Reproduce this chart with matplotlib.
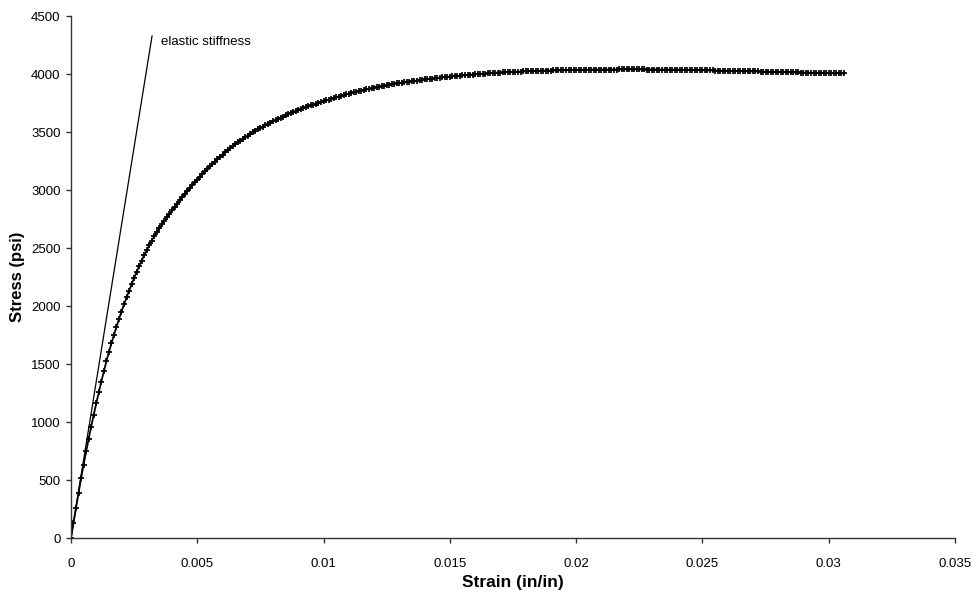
import matplotlib
matplotlib.use("Agg")
import matplotlib.pyplot as plt
import numpy as np

plt.rcParams['font.family'] = ['Liberation Sans', 'DejaVu Sans']

# strain readings, in units of 1e-4 in/in
strain_e4 = [
    0, 1, 2, 3, 4, 5, 6, 7, 8, 9, 10, 11, 12, 13, 14, 15, 16, 17, 18, 19,
    20, 21, 22, 23, 24, 25, 26, 27, 28, 29, 30, 31, 32, 33, 34, 35, 36, 37, 38, 39,
    40, 41, 42, 43, 44, 45, 46, 47, 48, 49, 50, 51, 52, 53, 54, 55, 56, 57, 58, 59,
    60, 61, 62, 63, 64, 65, 66, 67, 68, 69, 70, 71, 72, 73, 74, 75, 76, 77, 78, 79,
    80, 81, 82, 83, 84, 85, 86, 87, 88, 89, 90, 91, 92, 93, 94, 95, 96, 97, 98, 99,
    100, 101, 102, 103, 104, 105, 106, 107, 108, 109, 110, 111, 112, 113, 114, 115, 116, 117, 118, 119,
    120, 121, 122, 123, 124, 125, 126, 127, 128, 129, 130, 131, 132, 133, 134, 135, 136, 137, 138, 139,
    140, 141, 142, 143, 144, 145, 146, 147, 148, 149, 150, 151, 152, 153, 154, 155, 156, 157, 158, 159,
    160, 161, 162, 163, 164, 165, 166, 167, 168, 169, 170, 171, 172, 173, 174, 175, 176, 177, 178, 179,
    180, 181, 182, 183, 184, 185, 186, 187, 188, 189, 190, 191, 192, 193, 194, 195, 196, 197, 198, 199,
    200, 201, 202, 203, 204, 205, 206, 207, 208, 209, 210, 211, 212, 213, 214, 215, 216, 217, 218, 219,
    220, 221, 222, 223, 224, 225, 226, 227, 228, 229, 230, 231, 232, 233, 234, 235, 236, 237, 238, 239,
    240, 241, 242, 243, 244, 245, 246, 247, 248, 249, 250, 251, 252, 253, 254, 255, 256, 257, 258, 259,
    260, 261, 262, 263, 264, 265, 266, 267, 268, 269, 270, 271, 272, 273, 274, 275, 276, 277, 278, 279,
    280, 281, 282, 283, 284, 285, 286, 287, 288, 289, 290, 291, 292, 293, 294, 295, 296, 297, 298, 299,
    300, 301, 302, 303, 304, 305, 306]

# stress readings (psi)
stress = [
    0, 133, 264, 392, 516, 635, 749, 858, 963, 1064,
    1162, 1257, 1349, 1438, 1524, 1604, 1680, 1753, 1823, 1890,
    1954, 2016, 2076, 2134, 2190, 2244, 2296, 2346, 2394, 2440,
    2484, 2527, 2566, 2603, 2638, 2672, 2705, 2737, 2768, 2798,
    2827, 2856, 2884, 2912, 2939, 2966, 2992, 3018, 3043, 3068,
    3092, 3116, 3139, 3162, 3184, 3206, 3227, 3248, 3268, 3288,
    3307, 3326, 3344, 3362, 3379, 3396, 3412, 3428, 3443, 3458,
    3472, 3486, 3499, 3512, 3525, 3537, 3549, 3561, 3572, 3583,
    3594, 3605, 3615, 3625, 3635, 3645, 3654, 3663, 3672, 3681,
    3690, 3699, 3707, 3715, 3723, 3731, 3738, 3746, 3753, 3760,
    3767, 3774, 3781, 3788, 3795, 3802, 3808, 3815, 3821, 3827,
    3833, 3839, 3844, 3850, 3855, 3860, 3865, 3870, 3875, 3880,
    3884, 3889, 3893, 3897, 3901, 3905, 3909, 3913, 3917, 3921,
    3924, 3928, 3931, 3934, 3937, 3940, 3943, 3946, 3949, 3952,
    3955, 3958, 3960, 3963, 3965, 3968, 3970, 3973, 3975, 3978,
    3980, 3982, 3984, 3986, 3988, 3990, 3992, 3994, 3996, 3998,
    4000, 4002, 4003, 4005, 4006, 4008, 4009, 4011, 4012, 4014,
    4015, 4016, 4017, 4018, 4019, 4020, 4021, 4022, 4023, 4024,
    4025, 4026, 4027, 4028, 4028, 4029, 4030, 4031, 4031, 4032,
    4032, 4033, 4033, 4034, 4034, 4035, 4035, 4036, 4036, 4037,
    4037, 4038, 4038, 4039, 4039, 4039, 4039, 4040, 4040, 4040,
    4040, 4041, 4041, 4041, 4041, 4041, 4041, 4042, 4042, 4042,
    4042, 4042, 4042, 4042, 4042, 4042, 4042, 4042, 4041, 4041,
    4041, 4041, 4041, 4041, 4040, 4040, 4040, 4040, 4039, 4039,
    4039, 4039, 4038, 4038, 4037, 4037, 4037, 4036, 4036, 4035,
    4035, 4034, 4034, 4033, 4033, 4032, 4032, 4031, 4031, 4030,
    4030, 4029, 4029, 4028, 4028, 4027, 4027, 4026, 4026, 4025,
    4025, 4024, 4024, 4023, 4023, 4022, 4022, 4021, 4021, 4020,
    4020, 4019, 4019, 4018, 4018, 4017, 4017, 4016, 4016, 4015,
    4015, 4014, 4014, 4013, 4013, 4012, 4012, 4011, 4011, 4010,
    4010, 4009, 4009, 4008, 4008, 4007, 4007]

# elastic stiffness line end points
elastic_strain = [0, 0.00321]
elastic_stress = [0, 4330]

x_ticks = [0, 0.005, 0.01, 0.015, 0.02, 0.025, 0.03, 0.035]
x_labels = ["0", "0.005", "0.01", "0.015", "0.02", "0.025", "0.03", "0.035"]
y_ticks = [0, 500, 1000, 1500, 2000, 2500, 3000, 3500, 4000, 4500]

strain = np.array(strain_e4) * 1e-4

fig = plt.figure(figsize=(9.72, 5.94), dpi=100)
ax = fig.add_axes([0.073, 0.0938, 0.9095, 0.8788])

ax.plot(elastic_strain, elastic_stress, color='black', lw=0.9)
ax.plot(strain, stress, color='black', lw=1.3, marker='+', ms=4.8, mew=1.25)
ax.text(0.00356, 4281, "elastic stiffness", fontsize=9.5, ha='left', va='center')

ax.set_xlim(0, 0.035)
ax.set_ylim(0, 4500)
ax.set_xticks(x_ticks)
ax.set_xticklabels(x_labels)
ax.set_yticks(y_ticks)

for side in ['top', 'right']:
    ax.spines[side].set_visible(False)
for side in ['left', 'bottom']:
    ax.spines[side].set_color('#333333')
    ax.spines[side].set_linewidth(1.0)

ax.tick_params(axis='x', direction='out', length=3.5, width=1, color='#333333', labelsize=9.5, pad=11)
ax.tick_params(axis='y', direction='out', length=3.5, width=1, color='#333333', labelsize=9.5, pad=4)

ax.set_xlabel("Strain (in/in)", fontsize=12.5, fontweight='bold', labelpad=3)
ax.set_ylabel("Stress (psi)", fontsize=12, fontweight='bold', labelpad=4)

fig.savefig("out.png", dpi=100)
